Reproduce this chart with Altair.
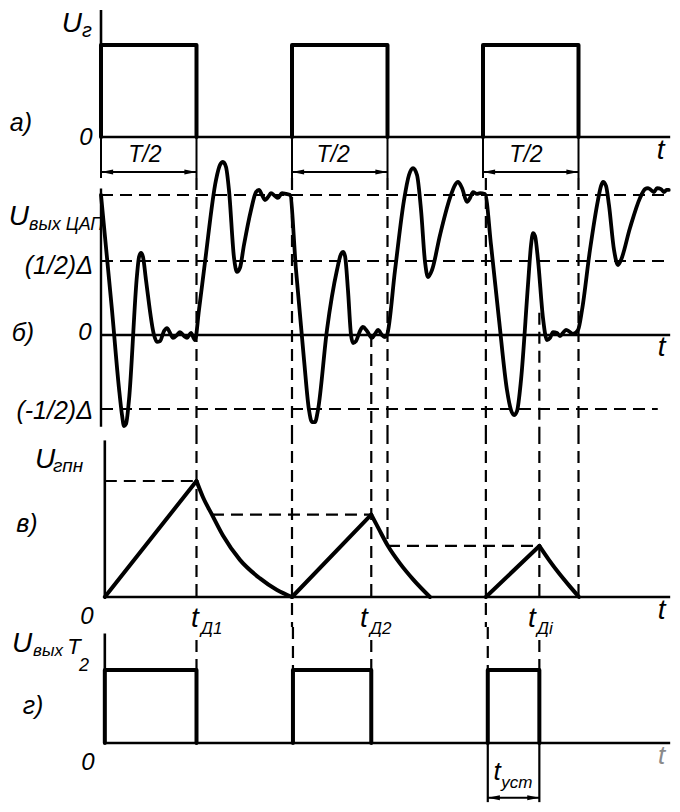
import altair as alt
import pandas as pd

INK = "#000000"
FONT = "Liberation Sans"
WIDTH = 664
T_DOMAIN = [-9.738, 59.79]           # time, units where T/2 = 10
DASH = [12, 7]
LEFT_HEAD = "M-1,0L1,-0.42L1,0.42Z"
RIGHT_HEAD = "M1,0L-1,-0.42L-1,0.42Z"

# ---------------- а) generator output U_г ----------------
A_HEIGHT = 170
A_U_DOMAIN = [-0.4457, 1.402]
A_PULSE_START = [0.0, 20.0, 40.0]
A_PULSE_END = [10.0, 30.0, 50.0]
A_PULSE_LEVEL = 1.0
A_TICK_T = [0.0, 10.0, 20.0, 30.0, 40.0, 50.0]
A_ARROW_U = -0.38
A_FRAME = [(0.0, 0.0, 0.0, 1.38), (0.0, 0.0, 59.6, 0.0)]
A_TEXT = [
    ("U", -3.04, 1.23, 28, "center"),
    ("г", -1.47, 1.15, 20, "center"),
    ("а)", -8.38, 0.15, 25, "center"),
    ("0", -1.57, -0.01, 24, "center"),
    ("t", 58.6, -0.15, 28, "center"),
    ("T/2", 4.6, -0.20, 23, "center"),
    ("T/2", 24.3, -0.20, 23, "center"),
    ("T/2", 44.5, -0.20, 23, "center"),
]

# ---------------- б) DAC output U_вых ЦАП (units of Δ) ----------------
B_HEIGHT = 254
B_U_DOMAIN = [-0.6554, 1.0608]
B_T = [0.00, 1.15, 1.88, 2.20, 2.41, 2.62, 2.93, 3.77, 3.98, 4.19, 4.40, 4.71, 5.55, 5.86,
       6.18, 6.60, 6.91, 7.23, 7.54, 7.96, 8.27, 8.69, 9.01, 9.42, 9.84,
       10.26, 10.89, 12.04, 12.46, 12.77, 13.09, 13.40, 13.93, 14.24, 14.55, 14.97, 15.71,
       16.23, 16.54, 16.86, 17.17, 17.49, 17.80, 18.22, 18.53, 18.95, 19.37, 19.79,
       20.42, 21.26, 21.78, 22.09, 22.41, 22.72, 23.66, 24.71, 25.13, 25.34, 25.55, 25.86,
       26.18, 26.39, 26.70, 27.12, 27.43, 27.85, 28.38, 28.69, 29.01, 29.42, 29.74,
       29.95, 30.79, 31.73, 32.25, 32.67, 33.09, 33.51, 33.93, 34.24, 34.66, 35.50, 36.54,
       37.07, 37.38, 37.80, 38.33, 38.64, 38.95, 39.37, 39.69, 40.21,
       40.84, 41.68, 42.51, 42.93, 43.25, 43.56, 43.98, 44.71, 45.03, 45.24, 45.45, 45.76,
       46.28, 46.70, 47.02, 47.33, 47.75, 48.06, 48.38, 48.69, 49.11, 49.42, 49.95,
       50.37, 51.20, 52.04, 52.36, 52.57, 52.88, 53.19, 53.72, 54.14, 54.45, 55.39, 56.44,
       56.96, 57.28, 57.59, 57.91, 58.22, 58.64, 58.95, 59.22, 59.45]
B_U = [0.946, 0.169, -0.358, -0.541, -0.615, -0.601, -0.439, 0.405, 0.527, 0.554, 0.527, 0.372, 0.0, -0.047,
       -0.041, 0.027, 0.047, 0.014, -0.020, 0.0, 0.020, -0.007, -0.020, 0.014, -0.034,
       0.169, 0.493, 1.047, 1.149, 1.169, 1.135, 0.980, 0.520, 0.426, 0.453, 0.608, 0.845,
       0.966, 0.980, 0.946, 0.912, 0.932, 0.959, 0.939, 0.926, 0.959, 0.953, 0.946,
       0.439, -0.169, -0.507, -0.588, -0.588, -0.507, 0.034, 0.439, 0.547, 0.561, 0.534, 0.304,
       0.0, -0.054, -0.041, 0.027, 0.054, 0.027, -0.020, 0.007, 0.034, 0.0, -0.014,
       0.0, 0.439, 0.912, 1.081, 1.128, 1.081, 0.845, 0.493, 0.392, 0.439, 0.676, 0.926,
       1.014, 1.034, 0.993, 0.899, 0.926, 0.966, 0.953, 0.959, 0.953,
       0.608, 0.101, -0.372, -0.507, -0.541, -0.514, -0.304, 0.338, 0.608, 0.689, 0.669, 0.507,
       0.115, -0.034, -0.020, 0.020, 0.014, -0.007, 0.014, 0.034, 0.020, 0.007, 0.034,
       0.169, 0.574, 0.912, 1.007, 1.034, 1.007, 0.878, 0.574, 0.473, 0.507, 0.723, 0.926,
       0.986, 0.993, 0.980, 0.966, 0.993, 0.986, 0.966, 0.980, 0.980]
B_HGUIDE_U = [0.946, 0.5, -0.5]
B_HGUIDE_END = [59.6, 59.4, 58.3]
B_VGUIDE_T = [10.0, 20.0, 28.3, 30.0, 40.3, 45.9, 50.0]
B_VGUIDE_TOP = [1.0608, 1.0608, 0.0, 1.0608, 1.0608, 0.15, 1.0608]
B_FRAME = [(0.0, 0.99, 0.0, -0.62), (0.0, 0.0, 59.6, 0.0)]
B_TEXT = [
    ("U", -8.59, 0.80, 28, "center"),
    ("вых ЦАП", -7.54, 0.74, 18, "left"),
    ("(1/2)Δ", -0.84, 0.466, 25, "right"),
    ("б)", -8.17, 0.014, 25, "center"),
    ("0", -1.68, 0.014, 24, "center"),
    ("(-1/2)Δ", -0.84, -0.514, 25, "right"),
    ("t", 58.7, -0.09, 28, "center"),
]

# ---------------- в) ramp generator U_гпн ----------------
C_HEIGHT = 195
C_U_DOMAIN = [-0.2586, 1.4224]
C_PIECE = [0, 0, 1, 1, 1, 1, 1, 1, 1, 1, 2, 2, 3, 3, 3, 3, 3, 3, 4, 4, 5, 5, 5, 5, 5]
C_T = [0.4, 10.0, 10.0, 10.68, 11.62, 12.77, 14.55, 16.65, 18.43, 20.0,
       20.0, 28.3, 28.3, 29.1, 30.05, 31.3, 32.7, 34.45,
       40.3, 45.9, 45.9, 46.9, 48.0, 49.0, 50.05]
C_U = [0.0, 1.0, 1.0, 0.86, 0.71, 0.53, 0.32, 0.16, 0.06, 0.0,
       0.0, 0.71, 0.71, 0.585, 0.44, 0.29, 0.15, 0.0,
       0.0, 0.44, 0.44, 0.32, 0.20, 0.10, 0.0]
C_HGUIDE_U = [1.0, 0.71, 0.44]
C_HGUIDE_START = [0.4, 11.62, 30.05]
C_HGUIDE_END = [10.0, 28.3, 45.9]
C_VGUIDE_T = [10.0, 20.0, 28.3, 30.0, 40.3, 45.9, 50.0]
C_VGUIDE_BOTTOM = [0.0, -0.2586, 0.0, 0.44, -0.2586, 0.0, 0.0]
C_FRAME = [(0.4, 0.0, 0.4, 1.35), (0.4, 0.0, 59.6, 0.0)]
C_TEXT = [
    ("U", -5.86, 1.18, 28, "center"),
    ("гпн", -5.03, 1.13, 19, "left"),
    ("в)", -7.75, 0.63, 25, "center"),
    ("0", -1.47, -0.17, 24, "center"),
    ("t", 58.7, -0.12, 28, "center"),
    ("t", 9.84, -0.19, 28, "center"),
    ("Д1", 10.47, -0.28, 17, "left"),
    ("t", 27.54, -0.19, 28, "center"),
    ("Д2", 28.17, -0.28, 17, "left"),
    ("t", 45.13, -0.19, 28, "center"),
    ("Дi", 45.65, -0.28, 17, "left"),
]

# ---------------- г) trigger output U_вых T2 ----------------
D_HEIGHT = 177
D_U_DOMAIN = [-0.8356, 1.589]
D_PULSE_START = [0.4, 20.1, 40.5]
D_PULSE_END = [10.0, 28.3, 45.9]
D_PULSE_LEVEL = 1.0
D_VGUIDE_T = [10.0, 20.1, 28.3, 40.5, 45.9]
D_VGUIDE_TOP = [1.41, 1.589, 1.41, 1.589, 1.41]
D_TICK_T = [40.5, 45.9]
D_TICK_BOTTOM = -0.81
D_ARROW_U = -0.75
D_FRAME = [(0.4, 0.0, 0.4, 1.5), (0.4, 0.0, 59.6, 0.0)]
D_TEXT = [
    ("U", -8.27, 1.36, 28, "center"),
    ("вых", -7.12, 1.26, 17, "left"),
    ("T", -2.83, 1.32, 22, "center"),
    ("2", -1.78, 1.05, 18, "center"),
    ("г)", -7.12, 0.51, 25, "center"),
    ("0", -1.36, -0.27, 24, "center"),
    ("t", 41.47, -0.40, 26, "center"),
    ("уст", 41.9, -0.55, 17, "left"),
]
D_FAINT_TEXT = [("t", 58.7, -0.18, 26, "center")]


# ---------------- helpers ----------------
def xs(field="t"):
    return alt.X(f"{field}:Q", scale=alt.Scale(domain=T_DOMAIN, nice=False, zero=False), axis=None)


def ys(dom, field="u"):
    return alt.Y(f"{field}:Q", scale=alt.Scale(domain=dom, nice=False, zero=False), axis=None)


def segs(rows, dom, width, dash=None):
    df = pd.DataFrame(rows, columns=["t", "u", "t2", "u2"])
    kw = dict(color=INK, strokeWidth=width)
    if dash:
        kw["strokeDash"] = dash
    return alt.Chart(df).mark_rule(**kw).encode(
        x=xs(), y=ys(dom), x2=alt.X2("t2"), y2=alt.Y2("u2"))


def polyline(df, dom, width, interp="linear"):
    return alt.Chart(df).mark_line(
        color=INK, strokeWidth=width, interpolate=interp,
        strokeCap="round", strokeJoin="round"
    ).encode(x=xs(), y=ys(dom), detail="piece:N", order="k:Q")


def pulses(starts, ends, level):
    rows = []
    for i, (s, e) in enumerate(zip(starts, ends)):
        for k, (t, u) in enumerate([(s, 0.0), (s, level), (e, level), (e, 0.0)]):
            rows.append({"piece": i, "k": k, "t": t, "u": u})
    return pd.DataFrame(rows)


def texts(rows, dom, color=INK):
    df = pd.DataFrame(rows, columns=["text", "t", "u", "size", "align"])
    out = []
    for a in ["left", "center", "right"]:
        sub = df[df["align"] == a]
        if len(sub) == 0:
            continue
        out.append(alt.Chart(sub).mark_text(
            align=a, baseline="middle", font=FONT, fontStyle="italic", color=color
        ).encode(x=xs(), y=ys(dom), text="text:N", size=alt.Size("size:Q", scale=None)))
    return out


def arrows(starts, ends, u, dom):
    df = pd.DataFrame({"t": starts, "t2": ends, "u": [u] * len(starts)})
    shaft = alt.Chart(df).mark_rule(color=INK, strokeWidth=2).encode(
        x=xs(), x2=alt.X2("t2"), y=ys(dom))
    lh = alt.Chart(df).mark_point(shape=LEFT_HEAD, filled=True, size=150, color=INK,
                                  opacity=1, xOffset=6).encode(x=xs(), y=ys(dom))
    rh = alt.Chart(df).mark_point(shape=RIGHT_HEAD, filled=True, size=150, color=INK,
                                  opacity=1, xOffset=-6).encode(x=xs("t2"), y=ys(dom))
    return [shaft, lh, rh]


# ---------------- panel а ----------------
a_layers = [
    segs(A_FRAME, A_U_DOMAIN, 2.6),
    segs([(t, 0.0, t, A_U_DOMAIN[0]) for t in A_TICK_T], A_U_DOMAIN, 2.0),
    polyline(pulses(A_PULSE_START, A_PULSE_END, A_PULSE_LEVEL), A_U_DOMAIN, 4.0),
] + arrows(A_PULSE_START, A_PULSE_END, A_ARROW_U, A_U_DOMAIN) + texts(A_TEXT, A_U_DOMAIN)
panel_a = alt.layer(*a_layers).properties(width=WIDTH, height=A_HEIGHT)

# ---------------- panel б ----------------
b_wave = pd.DataFrame({"t": B_T, "u": B_U, "k": range(len(B_T)), "piece": 0})
b_layers = [
    segs([(0.0, u, e, u) for u, e in zip(B_HGUIDE_U, B_HGUIDE_END)], B_U_DOMAIN, 2.2, DASH),
    segs([(t, top, t, B_U_DOMAIN[0]) for t, top in zip(B_VGUIDE_T, B_VGUIDE_TOP)],
         B_U_DOMAIN, 2.2, DASH),
    segs(B_FRAME, B_U_DOMAIN, 2.4),
    polyline(b_wave, B_U_DOMAIN, 3.8, "monotone"),
] + texts(B_TEXT, B_U_DOMAIN)
panel_b = alt.layer(*b_layers).properties(width=WIDTH, height=B_HEIGHT)

# ---------------- panel в ----------------
c_df = pd.DataFrame({"t": C_T, "u": C_U, "piece": C_PIECE, "k": range(len(C_T))})
c_layers = [
    segs([(s, u, e, u) for u, s, e in zip(C_HGUIDE_U, C_HGUIDE_START, C_HGUIDE_END)],
         C_U_DOMAIN, 2.2, DASH),
    segs([(t, C_U_DOMAIN[1], t, b) for t, b in zip(C_VGUIDE_T, C_VGUIDE_BOTTOM)],
         C_U_DOMAIN, 2.2, DASH),
    segs(C_FRAME, C_U_DOMAIN, 2.6),
    polyline(c_df, C_U_DOMAIN, 4.0, "monotone"),
] + texts(C_TEXT, C_U_DOMAIN)
panel_c = alt.layer(*c_layers).properties(width=WIDTH, height=C_HEIGHT)

# ---------------- panel г ----------------
d_layers = [
    segs([(t, top, t, D_PULSE_LEVEL) for t, top in zip(D_VGUIDE_T, D_VGUIDE_TOP)],
         D_U_DOMAIN, 2.2, DASH),
    segs([(t, 0.0, t, D_TICK_BOTTOM) for t in D_TICK_T], D_U_DOMAIN, 2.2),
    segs(D_FRAME, D_U_DOMAIN, 2.6),
    polyline(pulses(D_PULSE_START, D_PULSE_END, D_PULSE_LEVEL), D_U_DOMAIN, 4.0),
] + arrows([D_TICK_T[0]], [D_TICK_T[1]], D_ARROW_U, D_U_DOMAIN) \
  + texts(D_TEXT, D_U_DOMAIN) + texts(D_FAINT_TEXT, D_U_DOMAIN, "#8a8a8a")
panel_d = alt.layer(*d_layers).properties(width=WIDTH, height=D_HEIGHT)

chart = alt.vconcat(panel_a, panel_b, panel_c, panel_d, spacing=0, bounds="flush").properties(
    padding=0
).configure_view(stroke=None)

chart.save("out.html", embed_options={"renderer": "svg", "actions": False})
